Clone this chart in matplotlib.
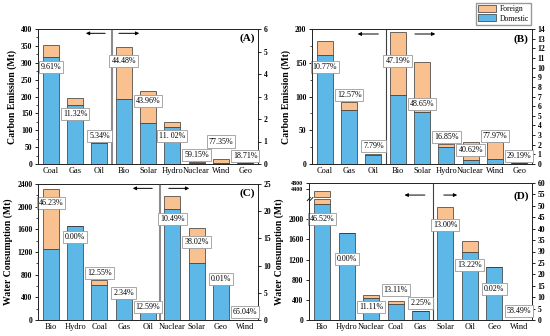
import numpy as np
import matplotlib
matplotlib.use('Agg')
import matplotlib.pyplot as plt
from matplotlib.patches import Patch
from matplotlib.ticker import MultipleLocator, AutoMinorLocator

plt.rcParams['font.family'] = ['Liberation Serif', 'DejaVu Serif']

BLUE = '#5db8e8'
ORANGE = '#f8c18f'
EDGE = '#333333'

###########################DATA#################################################
# (A) carbon emission, first 3 on left axis (Mt), rest on right axis
CatsA = ['Coal', 'Gas', 'Oil', 'Bio', 'Solar', 'Hydro', 'Nuclear', 'Wind', 'Geo']
DomA = [318, 174, 62, 2.89, 1.82, 1.65, 0.04, 0.05, 0.025]
ForA = [34, 23, 4, 2.30, 1.42, 0.21, 0.06, 0.16, 0.006]
PctA = ['9.61%', '11.32%', '5.34%', '44.48%', '43.96%', '11. 02%', '59.15%', '77.35%', '18.71%']
LabYA = [288, 148, 84, 4.58, 2.82, 1.26, 0.40, 1.00, 0.34]

# (B) carbon emission
CatsB = ['Coal', 'Gas', 'Oil', 'Bio', 'Solar', 'Hydro', 'Nuclear', 'Wind', 'Geo']
DomB = [162, 80.5, 13.3, 7.2, 5.4, 1.72, 0.42, 0.49, 0.10]
ForB = [20, 12, 1.1, 6.5, 5.15, 0.38, 1.83, 1.76, 0.04]
PctB = ['10.77%', '12.57%', '7.79%', '47.19%', '48.65%', '16.85%', '40.62%', '77.97%', '29.19%']
LabYB = [143, 102, 26, 10.7, 6.24, 2.8, 1.41, 2.86, 0.83]

# (C) water consumption, first 5 on left axis
CatsC = ['Bio', 'Hydro', 'Coal', 'Gas', 'Oil', 'Nuclear', 'Solar', 'Geo', 'Wind']
DomC = [1245, 1663, 623, 379, 139, 20.45, 10.45, 6.63, 0.02]
ForC = [1072, 0, 89, 9, 20, 2.4, 6.38, 0.0, 0.03]
PctC = ['46.23%', '0.00%', '12.55%', '2.34%', '12.59%', '10.49%', '38.02%', '0.01%', '65.04%']
LabYC = [2065, 1459, 835, 476, 235, 18.55, 14.25, 7.6, 1.47]

# (D) water consumption
CatsD = ['Bio', 'Hydro', 'Nuclear', 'Coal', 'Gas', 'Solar', 'Oil', 'Geo', 'Wind']
DomD = [2300, 1718, 440, 326, 175, 42.9, 29.85, 23.4, 0.04]
ForD = [2000, 0, 55, 49, 4, 6.4, 4.55, 0.0, 0.06]
PctD = ['46.52%', '0.00%', '11.11%', '13.11%', '2.25%', '13.00%', '13.22%', '0.02%', '58.49%']
LabYD = [1996, 1207, 260, 590, 330, 41.6, 24.3, 13.6, 3.8]

##########################broken axis for (D)###################################
LO = 2400.
HI = 3870.
GAP = 40.
K = 0.3

def fwd(v):
    v = np.asarray(v, dtype=float)
    return np.where(v <= LO, v, np.where(v >= HI, LO + GAP + (v - HI) * K,
                                         LO + (v - LO) * GAP / (HI - LO)))

def inv(f):
    f = np.asarray(f, dtype=float)
    return np.where(f <= LO, f, np.where(f >= LO + GAP, HI + (f - LO - GAP) / K,
                                         LO + (f - LO) * (HI - LO) / GAP))


def boldticks(a):
    for t in a.get_yticklabels():
        t.set_fontweight('bold')


##########################Panel#################################################
def Panel(ax, Cats, Dom, For, Pct, LabY, nleft, ylabel, limL, stepL, limR, stepR,
          letter, letY, arrY, arrL, arrR, divcol, divlw, brk=False):
    axr = ax.twinx()
    x = np.arange(len(Cats))
    w = 0.66
    for i in range(len(Cats)):
        a = ax if i < nleft else axr
        a.bar(x[i], Dom[i], w, color=BLUE, edgecolor=EDGE, lw=0.5, zorder=2)
        if brk and i == 0:
            a.bar(x[i], LO - Dom[i], w, bottom=Dom[i], color=ORANGE, edgecolor=EDGE, lw=0.5, zorder=2)
            a.bar(x[i], Dom[i] + For[i] - HI, w, bottom=HI, color=ORANGE, edgecolor=EDGE, lw=0.5, zorder=2)
        else:
            a.bar(x[i], For[i], w, bottom=Dom[i], color=ORANGE, edgecolor=EDGE, lw=0.5, zorder=2)
        a.text(x[i], LabY[i], Pct[i], ha='center', va='center', fontsize=5.8, zorder=5,
               bbox=dict(boxstyle='square,pad=0.25', fc='white', ec='#9a9a9a', lw=0.6))
    ax.axvline(nleft - 0.5, color=divcol, lw=divlw, zorder=3)
    ax.set_xlim(-0.53, len(Cats) - 0.47)
    ax.set_xticks(x)
    ax.set_xticklabels(Cats, fontsize=6)
    ax.tick_params(axis='x', length=0, pad=2.5)

    if brk:
        ax.set_yscale('function', functions=(fwd, inv))
        ax.set_ylim(limL)
        ax.set_yticks([0, 400, 800, 1200, 1600, 2000, 4400, 4800])
        yb = float(fwd(2420) / fwd(limL[1]))
        for dx in [0.0, 0.012]:
            ax.plot([-0.008 + dx, 0.006 + dx], [yb - 0.012, yb + 0.012], color='k', lw=0.6,
                    transform=ax.transAxes, clip_on=False, zorder=6)
    else:
        ax.set_ylim(limL)
        ax.yaxis.set_major_locator(MultipleLocator(stepL))
        ax.yaxis.set_minor_locator(AutoMinorLocator(2))
    axr.set_ylim(limR)
    axr.yaxis.set_major_locator(MultipleLocator(stepR))
    ax.tick_params(axis='y', labelsize=5.5, length=2.5, width=0.6, pad=1.5)
    ax.tick_params(axis='y', which='minor', length=1.5, width=0.5)
    axr.tick_params(axis='y', labelsize=5.5, length=2.5, width=0.6, pad=1.5)
    boldticks(ax)
    boldticks(axr)
    if brk:
        # the two ticks above the break sit close together
        for t in ax.get_yticklabels()[-2:]:
            t.set_fontsize(4.3)
    ax.set_ylabel(ylabel, fontsize=7, fontweight='bold', labelpad=3)
    for a in [ax, axr]:
        for s in a.spines.values():
            s.set_linewidth(0.6)
            s.set_color('#222222')

    ax.annotate('', xy=(arrL[1], arrY), xytext=(arrL[0], arrY), xycoords='axes fraction',
                arrowprops=dict(arrowstyle='-|>', lw=0.7, color='k', mutation_scale=5))
    ax.annotate('', xy=(arrR[1], arrY), xytext=(arrR[0], arrY), xycoords='axes fraction',
                arrowprops=dict(arrowstyle='-|>', lw=0.7, color='k', mutation_scale=5))
    ax.text(0.985, letY, letter, transform=ax.transAxes, ha='right', va='center',
            fontsize=8, fontweight='bold', zorder=6)
    return axr


fig = plt.figure(figsize=(5.5, 3.36), dpi=100)
axA = fig.add_axes([38 / 550, 1 - 164 / 336, 220 / 550, 135 / 336])
axB = fig.add_axes([312 / 550, 1 - 164 / 336, 220 / 550, 135 / 336])
axC = fig.add_axes([38 / 550, 1 - 320 / 336, 220 / 550, 136 / 336])
axD = fig.add_axes([309 / 550, 1 - 320 / 336, 223 / 550, 137 / 336])

Panel(axA, CatsA, DomA, ForA, PctA, LabYA, 3, 'Carbon Emission (Mt)', (0, 400), 50, (0, 6), 1,
      '(A)', 0.93, 0.968, (0.318, 0.205), (0.355, 0.473), '#8c8c8c', 1.5)
Panel(axB, CatsB, DomB, ForB, PctB, LabYB, 3, 'Carbon Emission (Mt)', (0, 200), 50, (0, 14), 1,
      '(B)', 0.926, 0.963, (0.314, 0.195), (0.455, 0.573), '#404040', 0.8)
Panel(axC, CatsC, DomC, ForC, PctC, LabYC, 5, 'Water Consumption (Mt)', (0, 2400), 400, (0, 25), 5,
      '(C)', 0.934, 0.968, (0.532, 0.418), (0.582, 0.70), '#8c8c8c', 1.5)
Panel(axD, CatsD, DomD, ForD, PctD, LabYD, 5, 'Water Consumption (Mt)', (0, 4800), 400, (0, 60), 5,
      '(D)', 0.905, 0.912, (0.532, 0.416), (0.592, 0.677), '#404040', 0.8, brk=True)

fig.legend(handles=[Patch(facecolor=ORANGE, edgecolor=EDGE, lw=0.5, label='Foreign'),
                    Patch(facecolor=BLUE, edgecolor=EDGE, lw=0.5, label='Domestic')],
           loc='upper right', bbox_to_anchor=(531 / 550, 1 - 3 / 336), fontsize=5.5,
           frameon=True, fancybox=False, edgecolor='#999999', framealpha=1,
           handlelength=2.4, handleheight=1.0, borderpad=0.3, labelspacing=0.15,
           handletextpad=0.4, borderaxespad=0)

fig.savefig('out.png', dpi=100)
